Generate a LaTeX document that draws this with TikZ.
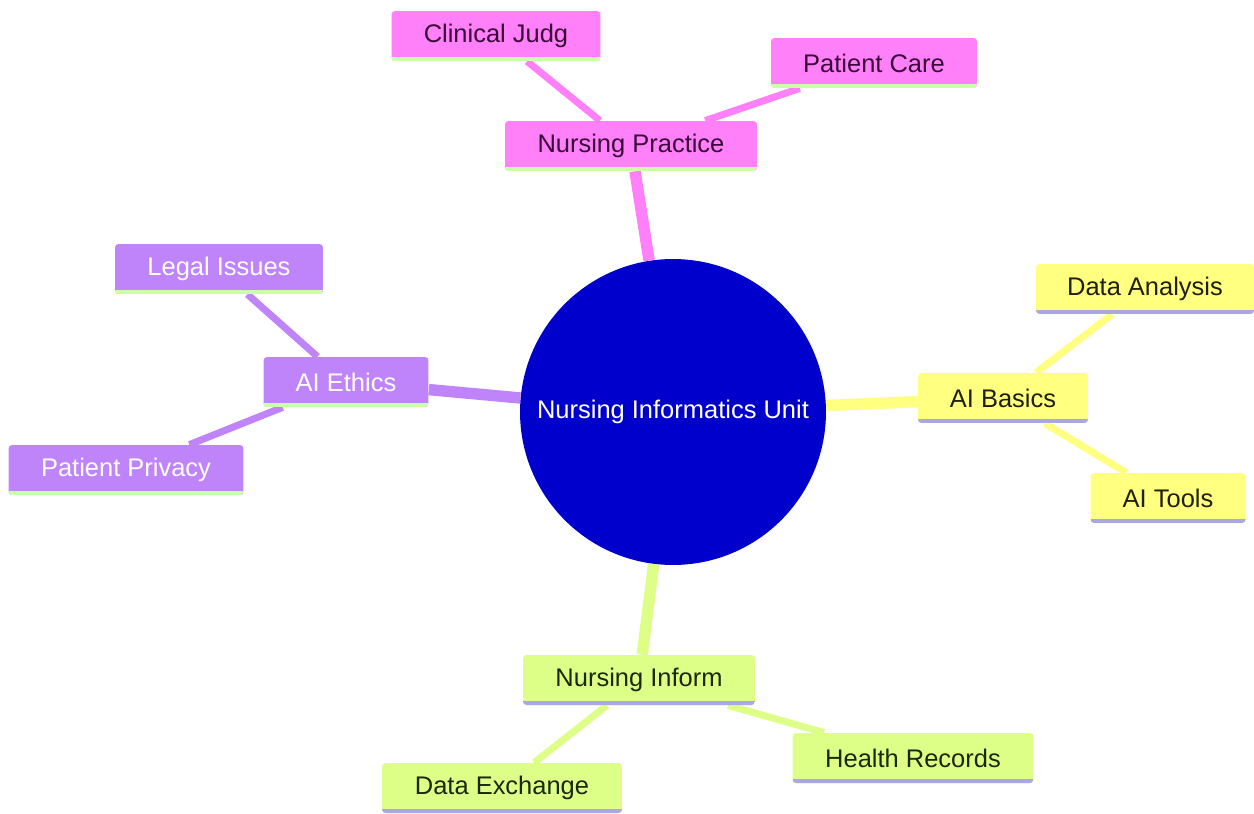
\documentclass[tikz,border=0pt]{standalone}
\usepackage{fontspec}
\setmainfont{Liberation Sans}
\usetikzlibrary{backgrounds}

\definecolor{hubblue}{HTML}{0000CC}
\definecolor{pinkfill}{HTML}{FF80F8}
\definecolor{pinktext}{HTML}{3A0838}
\definecolor{purplefill}{HTML}{C084FA}
\definecolor{yellowfill}{HTML}{FFFF80}
\definecolor{yellowtext}{HTML}{202010}
\definecolor{greenfill}{HTML}{DDFF88}
\definecolor{greentext}{HTML}{1A2808}
\definecolor{greenline}{HTML}{CCFFAA}
\definecolor{lavline}{HTML}{AAA8E0}

\begin{document}
\begin{tikzpicture}[x=0.02cm,y=-0.02cm,
  topic/.style={rectangle,rounded corners=2pt,minimum height=1cm,inner sep=0pt,
    font=\fontsize{14.5}{17}\selectfont},
  stripe/.style={path picture={\draw[line width=4pt,#1]
    (path picture bounding box.south west) -- (path picture bounding box.south east);}},
  pinkbox/.style={topic,fill=pinkfill,text=pinktext,stripe=greenline},
  purplebox/.style={topic,fill=purplefill,text=white,stripe=greenline},
  yellowbox/.style={topic,fill=yellowfill,text=yellowtext,stripe=lavline},
  greenbox/.style={topic,fill=greenfill,text=greentext,stripe=lavline},
  trunk/.style={line width=6.5pt},
  twig/.style={line width=4pt}]

  \useasboundingbox (0,0) rectangle (1254,814);

  \node[circle,fill=hubblue,text=white,minimum size=6.12cm,inner sep=0pt,
    font=\fontsize{14.5}{17}\selectfont] (hub) at (673,412) {Nursing Informatics Unit};

  % practice
  \node[pinkbox,minimum width=5.04cm] (practice) at (631,146) {Nursing Practice};
  \node[pinkbox,minimum width=4.18cm] (judg) at (496,36) {Clinical Judg};
  \node[pinkbox,minimum width=4.12cm] (care) at (874,63) {Patient Care};

  % ethics
  \node[purplebox,minimum width=3.3cm] (ethics) at (346,382) {AI Ethics};
  \node[purplebox,minimum width=4.16cm] (legal) at (219,269) {Legal Issues};
  \node[purplebox,minimum width=4.7cm] (privacy) at (126,470) {Patient Privacy};

  % basics
  \node[yellowbox,minimum width=3.4cm] (basics) at (1003,398) {AI Basics};
  \node[yellowbox,minimum width=4.36cm] (analysis) at (1145,289) {Data Analysis};
  \node[yellowbox,minimum width=3.1cm] (tools) at (1168,498) {AI Tools};

  % inform
  \node[greenbox,minimum width=4.64cm] (inform) at (639,680) {Nursing Inform};
  \node[greenbox,minimum width=4.82cm] (records) at (913,758) {Health Records};
  \node[greenbox,minimum width=4.8cm] (exchange) at (502,788) {Data Exchange};

  \begin{scope}[on background layer]
    \draw[trunk,pinkfill] (hub) -- (practice);
    \draw[twig,pinkfill] (practice) -- (judg);
    \draw[twig,pinkfill] (practice) -- (care);
    \draw[trunk,purplefill] (hub) -- (ethics);
    \draw[twig,purplefill] (ethics) -- (legal);
    \draw[twig,purplefill] (ethics) -- (privacy);
    \draw[trunk,yellowfill] (hub) -- (basics);
    \draw[twig,yellowfill] (basics) -- (analysis);
    \draw[twig,yellowfill] (basics) -- (tools);
    \draw[trunk,greenfill] (hub) -- (inform);
    \draw[twig,greenfill] (inform) -- (records);
    \draw[twig,greenfill] (inform) -- (exchange);
  \end{scope}
\end{tikzpicture}
\end{document}
